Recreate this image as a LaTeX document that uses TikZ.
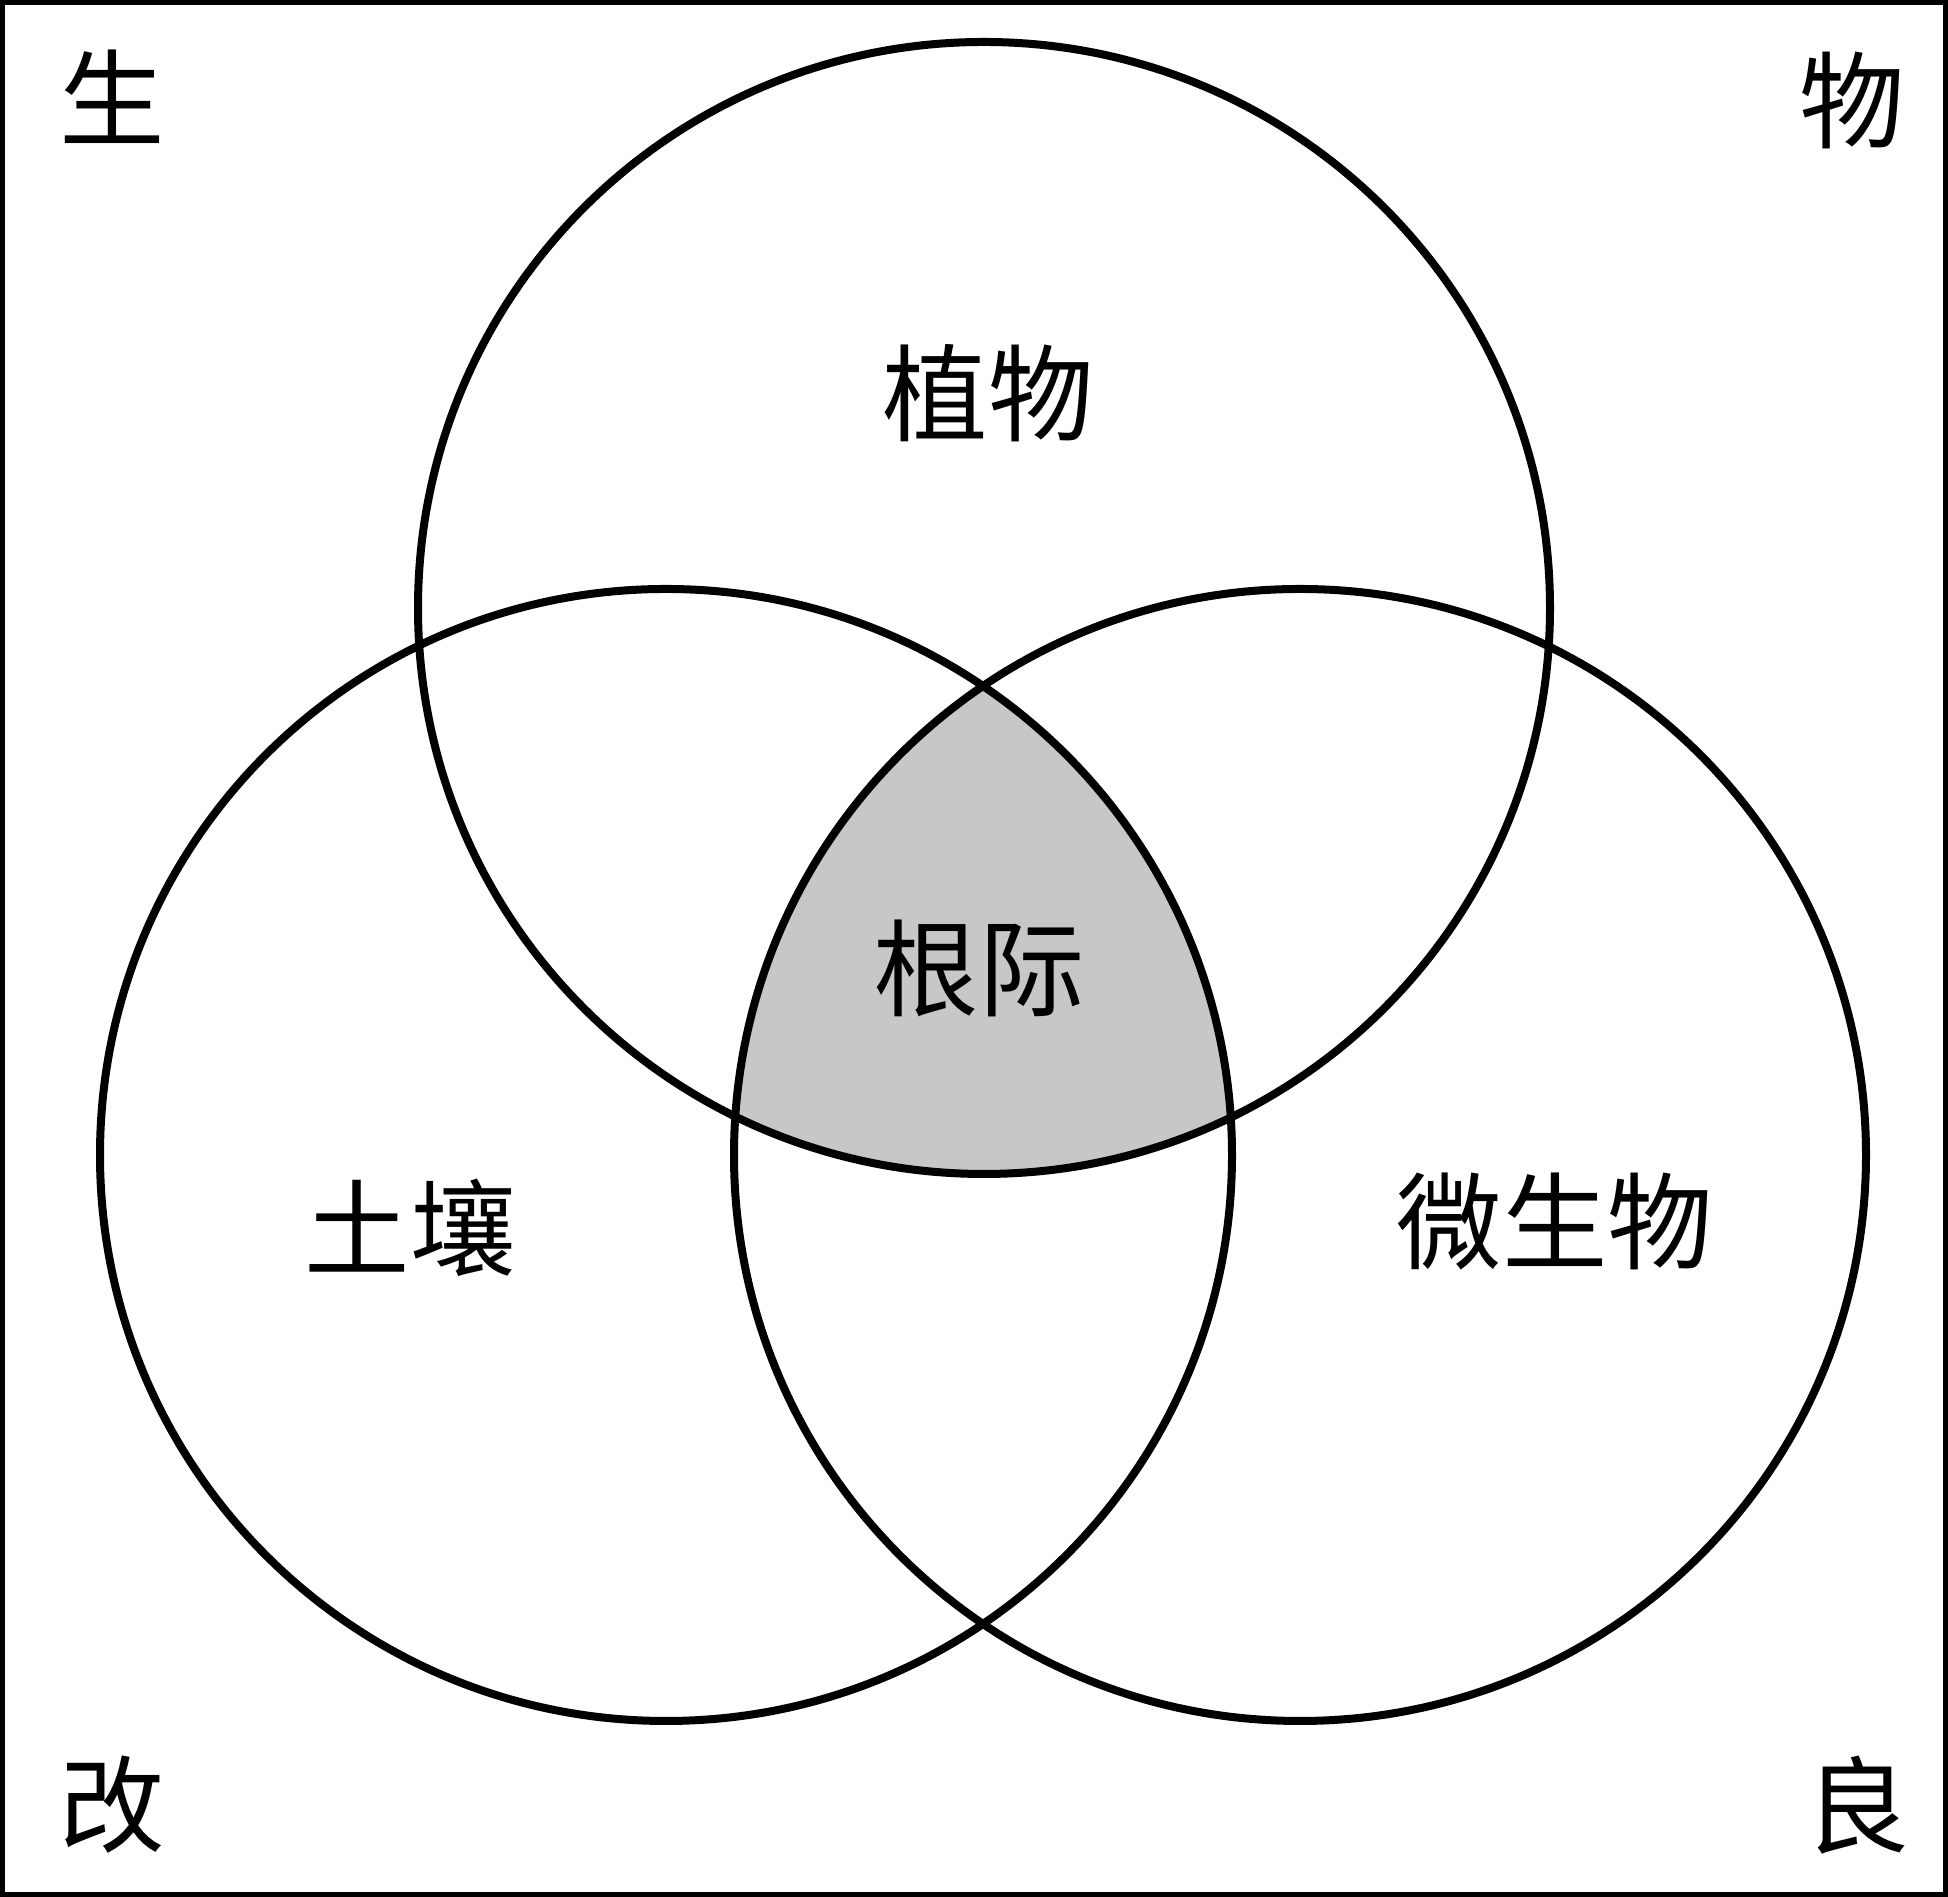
\documentclass[tikz,border=0pt]{standalone}
\usepackage{fontspec}
\newfontfamily\cjk{Noto Sans CJK SC}
\definecolor{rootgray}{RGB}{199,199,199}
\tikzset{
  ring/.style={line width=0.08cm},
  frame/.style={line width=0.05cm},
  cjktext/.style={font=\cjk\fontsize{30}{36}\selectfont, inner sep=0pt}
}
\begin{document}
\begin{tikzpicture}
\useasboundingbox (0,0) rectangle (19.48,18.97);
% frame
\path (0.025,0.025) coordinate (origin1);
\path (19.455,18.945) coordinate (topright1);
\draw[frame] (origin1) rectangle (topright1);

% circle centres
\path (9.84,12.89) coordinate (cplant);
\path (6.66,7.42) coordinate (csoil);
\path (13.00,7.42) coordinate (cmicrobe);

% shaded middle
\begin{scope}
\clip (cplant) circle (5.66);
\clip (csoil) circle (5.66);
\fill[rootgray] (cmicrobe) circle (5.66);
\end{scope}

% draw
\draw[ring] (cplant) circle (5.66);
\draw[ring] (csoil) circle (5.66);
\draw[ring] (cmicrobe) circle (5.66);

% labels
\path (9.88,15.04) node[cjktext] (plant){植物};
\path (9.79,9.29) node[cjktext] (rhizo){根际};
\path (4.10,6.69) node[cjktext] (soil){土壤};
\path (15.55,6.75) node[cjktext] (microbe){微生物};

% corners
\path (1.12,18.00) node[cjktext] (sheng){生};
\path (18.52,17.97) node[cjktext] (wu){物};
\path (1.12,0.92) node[cjktext] (gai){改};
\path (18.57,0.92) node[cjktext] (liang){良};
\end{tikzpicture}
\end{document}
